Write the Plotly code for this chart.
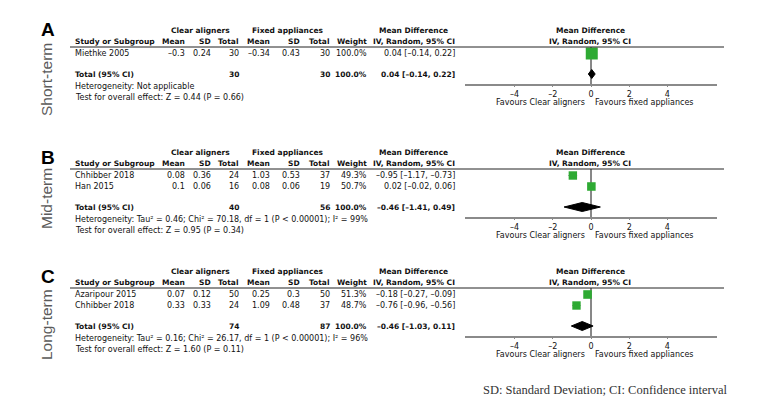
import plotly.graph_objects as go

# ---- data ----
panel_letters = ["A", "B", "C"]
periods = ["Short-term", "Mid-term", "Long-term"]

study_names = [["Miethke 2005"], ["Chhibber 2018", "Han 2015"], ["Azaripour 2015", "Chhibber 2018"]]
ca_mean = [[-0.3], [0.08, 0.1], [0.07, 0.33]]
ca_sd = [[0.24], [0.36, 0.06], [0.12, 0.33]]
ca_n = [[30], [24, 16], [50, 24]]
fa_mean = [[-0.34], [1.03, 0.08], [0.25, 1.09]]
fa_sd = [[0.43], [0.53, 0.06], [0.3, 0.48]]
fa_n = [[30], [37, 19], [50, 37]]
weights = [[100.0], [49.3, 50.7], [51.3, 48.7]]
md = [[0.04], [-0.95, 0.02], [-0.18, -0.76]]
md_lo = [[-0.14], [-1.17, -0.02], [-0.27, -0.96]]
md_hi = [[0.22], [-0.73, 0.06], [-0.09, -0.56]]

total_ca = [30, 40, 74]
total_fa = [30, 56, 87]
total_md = [0.04, -0.46, -0.46]
total_lo = [-0.14, -1.41, -1.03]
total_hi = [0.22, 0.49, 0.11]

heterogeneity = [
    "Heterogeneity: Not applicable",
    "Heterogeneity: Tau² = 0.46; Chi² = 70.18, df = 1 (P < 0.00001); I² = 99%",
    "Heterogeneity: Tau² = 0.16; Chi² = 26.17, df = 1 (P < 0.00001); I² = 96%",
]
overall = [
    "Test for overall effect: Z = 0.44 (P = 0.66)",
    "Test for overall effect: Z = 0.95 (P = 0.34)",
    "Test for overall effect: Z = 1.60 (P = 0.11)",
]
tick_vals = [-4, -2, 0, 2, 4]
footnote = "SD: Standard Deviation; CI: Confidence interval"

# ---- layout bits (page pixels) ----
PAGE_W, PAGE_H = 773, 411
OFF = 8  # browser body margin
W, H = PAGE_W - OFF, PAGE_H - OFF
tops = [30, 152, 271]
letter_y = [29, 157, 276]
label_y = [80, 199, 325]
FONT = "Lucida Grande, DejaVu Sans, sans-serif"
TXT = "#111"
GREEN = "#2eaa33"
AX_L, AX_R = 465, 717


def px(x):
    return (x - OFF) / W


def mf(v, nd=None):
    s = ("%.*f" % (nd, v)) if nd is not None else str(v)
    return s.replace("-", "\u2013")


def ci(m, lo, hi):
    return "%s [%s, %s]" % (mf(m, 2), mf(lo, 2), mf(hi, 2))


fig = go.Figure()
ann = []
shapes = []


def txt(x, y, s, anchor="left", bold=False, size=None, color=TXT, family=FONT, **kw):
    if size is None:
        size = 7.5 if bold else 8
    ann.append(dict(x=px(x), y=y, xref="paper", yref="y", text=("<b>%s</b>" % s) if bold else s,
                    showarrow=False, xanchor=anchor, yanchor="middle",
                    font=dict(family=family, size=size, color=color), **kw))


for p in range(3):
    top = tops[p]
    xa = "x" if p == 0 else "x%d" % (p + 1)
    n = len(study_names[p])
    rows = [top + 23.5 + 11 * i for i in range(n)]
    y_tot = rows[-1] + 20.5
    y_axis = y_tot + 10.5

    # panel letter and period label
    txt(48, letter_y[p], panel_letters[p], anchor="center", bold=True, size=19,
        color="#000", family="Liberation Sans, Arial, sans-serif")
    txt(46, label_y[p], periods[p], anchor="center", size=15.5, color="#5a5a5a",
        family="Liberation Sans, Arial, sans-serif", textangle=-90)

    # table headers
    txt(200, top, "Clear aligners", anchor="center", bold=True)
    txt(287, top, "Fixed appliances", anchor="center", bold=True)
    txt(413, top, "Mean Difference", anchor="center", bold=True)
    txt(590, top, "Mean Difference", anchor="center", bold=True)
    txt(590, top + 11, "IV, Random, 95% CI", anchor="center", bold=True)
    txt(73, top + 11, "Study or Subgroup", bold=True)
    for xr, lab in [(187, "Mean"), (213, "SD"), (241, "Total"), (272, "Mean"),
                    (302, "SD"), (332, "Total"), (369, "Weight"), (457, "IV, Random, 95% CI")]:
        txt(xr, top + 11, lab, anchor="right", bold=True)
    shapes.append(dict(type="line", xref="paper", yref="y", x0=px(70), x1=px(724),
                       y0=top + 17, y1=top + 17, line=dict(color="#222", width=1)))

    # study rows
    for i in range(n):
        y = rows[i]
        txt(73, y, study_names[p][i])
        txt(187, y, mf(ca_mean[p][i]), anchor="right")
        txt(213, y, mf(ca_sd[p][i]), anchor="right")
        txt(241, y, str(ca_n[p][i]), anchor="right")
        txt(272, y, mf(fa_mean[p][i]), anchor="right")
        txt(302, y, mf(fa_sd[p][i]), anchor="right")
        txt(332, y, str(fa_n[p][i]), anchor="right")
        txt(369, y, "%.1f%%" % weights[p][i], anchor="right")
        txt(457, y, ci(md[p][i], md_lo[p][i], md_hi[p][i]), anchor="right")

    # total row
    txt(73, y_tot, "Total (95% CI)", bold=True)
    txt(241, y_tot, str(total_ca[p]), anchor="right", bold=True)
    txt(332, y_tot, str(total_fa[p]), anchor="right", bold=True)
    txt(369, y_tot, "100.0%", anchor="right", bold=True)
    txt(457, y_tot, ci(total_md[p], total_lo[p], total_hi[p]), anchor="right", bold=True)
    txt(73, y_tot + 12, heterogeneity[p])
    txt(73, y_tot + 23, overall[p])

    # zero line, behind the marks
    shapes.append(dict(type="line", xref=xa, yref="y", x0=0, x1=0, y0=top + 17, y1=y_axis,
                       line=dict(color="#111", width=1), layer="below"))

    # study squares with CI
    fig.add_trace(go.Scatter(
        x=md[p], y=rows, xaxis=xa, yaxis="y", mode="markers",
        marker=dict(symbol="square", color=GREEN, opacity=1,
                    size=[12 * (w / 100) ** 0.5 for w in weights[p]], line=dict(width=0)),
        error_x=dict(type="data", symmetric=False,
                     array=[h - m for h, m in zip(md_hi[p], md[p])],
                     arrayminus=[m - l for m, l in zip(md[p], md_lo[p])],
                     color="#111", thickness=1, width=0),
        showlegend=False, hoverinfo="skip"))

    # pooled diamond
    dh = 4.5
    fig.add_trace(go.Scatter(
        x=[total_lo[p], total_md[p], total_hi[p], total_md[p], total_lo[p]],
        y=[y_tot, y_tot - dh, y_tot, y_tot + dh, y_tot],
        xaxis=xa, yaxis="y", mode="lines", fill="toself", fillcolor="#000",
        line=dict(color="#000", width=1), showlegend=False, hoverinfo="skip"))

    fig.update_layout(**{("xaxis" if p == 0 else "xaxis%d" % (p + 1)): dict(
        domain=[px(AX_L), px(AX_R)], range=[-6.6, 6.6], anchor="free",
        position=1 - (y_axis - OFF) / H, showline=True, linecolor="#8a8a8a", linewidth=1.5,
        tickvals=tick_vals, ticktext=[mf(v) for v in tick_vals],
        ticks="outside", ticklen=2, tickcolor="#8a8a8a", tickwidth=1,
        tickfont=dict(family=FONT, size=8, color=TXT),
        showgrid=False, zeroline=False, fixedrange=True)})

    txt(587, y_axis + 17.5, "Favours Clear aligners", anchor="right")
    txt(593, y_axis + 17.5, "Favours fixed appliances", anchor="left")

ann.append(dict(x=px(730), y=390, xref="paper", yref="y", text=footnote, showarrow=False,
                xanchor="right", yanchor="middle",
                font=dict(family="Liberation Serif, Times New Roman, serif", size=12.5, color="#333")))

fig.update_layout(
    width=W, height=H, margin=dict(l=0, r=0, t=0, b=0),
    paper_bgcolor="white", plot_bgcolor="rgba(0,0,0,0)",
    yaxis=dict(domain=[0, 1], range=[PAGE_H, OFF], visible=False, fixedrange=True),
    annotations=ann, shapes=shapes, showlegend=False,
)

fig.write_html("out.html")
